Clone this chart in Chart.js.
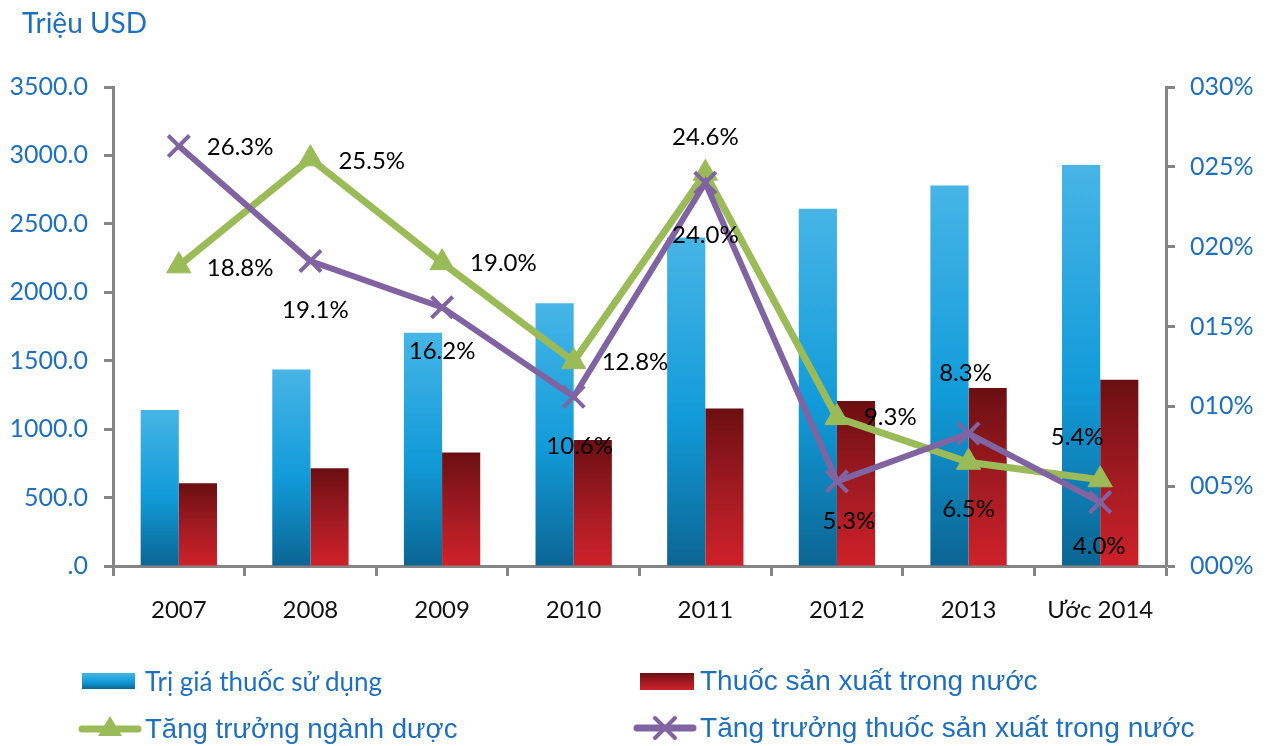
<!DOCTYPE html>
<html>
<head>
<meta charset="utf-8">
<script src="https://cdn.jsdelivr.net/npm/chart.js@4.4.1/dist/chart.umd.min.js"></script>
<style>
  html, body { margin: 0; padding: 0; background: #ffffff; }
  #wrap { position: relative; width: 1270px; height: 746px; overflow: hidden; }
  #c { position: absolute; left: 0; top: 0; }
  .txt { position: absolute; white-space: nowrap; color: #1f6fbf; line-height: 1; }
  #title { left: 22px; top: 5px; font: 28px Lato, "Noto Sans", sans-serif; }
  .sw { position: absolute; }
</style>
</head>
<body>
<div id="wrap">
  <canvas id="c" width="1270" height="746"></canvas>
  <div id="title" class="txt">Triệu USD</div>
  <div id="legend"></div>
</div>
<script>
// ---- data ----
const categories = ['2007', '2008', '2009', '2010', '2011', '2012', '2013', 'Ước 2014'];
const usageValue = [1140, 1435, 1705, 1920, 2400, 2610, 2780, 2930];       // Trị giá thuốc sử dụng (Triệu USD)
const domesticValue = [605, 715, 830, 920, 1150, 1205, 1300, 1360];        // Thuốc sản xuất trong nước (Triệu USD)
const pharmaGrowth = [18.8, 25.5, 19.0, 12.8, 24.6, 9.3, 6.5, 5.4];        // Tăng trưởng ngành dược (%)
const domesticGrowth = [26.3, 19.1, 16.2, 10.6, 24.0, 5.3, 8.3, 4.0];      // Tăng trưởng thuốc sản xuất trong nước (%)
const leftTickLabels = ['.0', '500.0', '1000.0', '1500.0', '2000.0', '2500.0', '3000.0', '3500.0'];
const rightTickLabels = ['000%', '005%', '010%', '015%', '020%', '025%', '030%'];
const seriesNames = ['Trị giá thuốc sử dụng', 'Thuốc sản xuất trong nước', 'Tăng trưởng ngành dược', 'Tăng trưởng thuốc sản xuất trong nước'];

// ---- label placement (style: align, dx, dy relative to the point) ----
const greenLabelPlace = [['left', 28, 2], ['left', 28, 2], ['left', 28, 1], ['left', 28, 1], ['center', 0, -36], ['left', 27, 0], ['center', 0, 47], ['center', -23, -43]];
const purpleLabelPlace = [['left', 28, 1], ['center', 5, 49], ['center', 0, 44], ['center', 6, 50], ['center', 0, 52], ['center', 12, 40], ['center', -3, -60], ['center', -1, 44]];

const BLUE_TXT = '#1f6fbf';
const AXIS = '#858585';
const GREEN = '#9bbb59';
const PURPLE = '#8064a2';

function barGradient(stops) {
  return function (ctx) {
    const chart = ctx.chart;
    if (ctx.type !== 'data' || !chart.chartArea) return stops[stops.length - 1][1];
    const y = chart.scales.y;
    const top = y.getPixelForValue(ctx.raw);
    const bottom = y.getPixelForValue(0);
    if (!isFinite(top) || !isFinite(bottom) || top === bottom) return stops[0][1];
    const g = chart.ctx.createLinearGradient(0, top, 0, bottom);
    stops.forEach(s => g.addColorStop(s[0], s[1]));
    return g;
  };
}
const blueStops = [[0, '#47b5e6'], [0.55, '#119bd9'], [1, '#0b6593']];
const redStops = [[0, '#6b0f12'], [0.55, '#a41b22'], [1, '#cf2129']];

const labelPlugin = {
  id: 'pointLabels',
  afterDatasetsDraw(chart) {
    const ctx = chart.ctx;
    ctx.save();
    ctx.font = '24px Lato, "Noto Sans", sans-serif';
    ctx.fillStyle = '#000000';
    ctx.textBaseline = 'middle';
    [[2, greenLabelPlace], [3, purpleLabelPlace]].forEach(([di, place]) => {
      const meta = chart.getDatasetMeta(di);
      const vals = chart.data.datasets[di].data;
      meta.data.forEach((pt, i) => {
        const p = place[i];
        ctx.textAlign = p[0];
        ctx.fillText(vals[i].toFixed(1) + '%', pt.x + p[1], pt.y + p[2]);
      });
    });
    ctx.restore();
  }
};

const tickFont = { family: 'Lato, "Noto Sans", sans-serif', size: 25 };
const catFont = { family: 'Lato, "Noto Sans", sans-serif', size: 24 };

new Chart(document.getElementById('c'), {
  type: 'bar',
  data: {
    labels: categories,
    datasets: [
      { label: seriesNames[0], data: usageValue, yAxisID: 'y', order: 3,
        backgroundColor: barGradient(blueStops), barPercentage: 1, categoryPercentage: 0.58, borderWidth: 0 },
      { label: seriesNames[1], data: domesticValue, yAxisID: 'y', order: 3,
        backgroundColor: barGradient(redStops), barPercentage: 1, categoryPercentage: 0.58, borderWidth: 0 },
      { type: 'line', label: seriesNames[2], data: pharmaGrowth, yAxisID: 'y2', order: 2,
        borderColor: GREEN, backgroundColor: GREEN, borderWidth: 7, tension: 0,
        pointStyle: 'triangle', pointRadius: 14, pointBorderWidth: 1, pointBackgroundColor: GREEN, pointBorderColor: GREEN },
      { type: 'line', label: seriesNames[3], data: domesticGrowth, yAxisID: 'y2', order: 1,
        borderColor: PURPLE, backgroundColor: PURPLE, borderWidth: 6, tension: 0,
        pointStyle: 'crossRot', pointRadius: 15, pointBorderWidth: 4, pointBorderColor: PURPLE }
    ]
  },
  options: {
    responsive: false,
    animation: false,
    layout: { padding: { top: 87, left: 0, right: 0, bottom: 0 } },
    plugins: { legend: { display: false }, tooltip: { enabled: false }, title: { display: false } },
    scales: {
      x: {
        offset: true,
        grid: { display: true, drawOnChartArea: false, offset: true, tickLength: 10, tickWidth: 3, tickColor: AXIS },
        border: { display: true, color: AXIS, width: 3 },
        ticks: { color: '#111111', font: catFont, padding: 20, maxRotation: 0, autoSkip: false },
        afterFit(s) { s.height = 180; }
      },
      y: {
        position: 'left', min: 0, max: 3500,
        grid: { display: true, drawOnChartArea: false, tickLength: 9, tickWidth: 3, tickColor: AXIS },
        border: { display: true, color: AXIS, width: 3 },
        ticks: { stepSize: 500, color: BLUE_TXT, font: tickFont, padding: 16,
          callback: (v, i) => leftTickLabels[i] },
        afterFit(s) { s.width = 113; }
      },
      y2: {
        position: 'right', min: 0, max: 30,
        grid: { display: true, drawOnChartArea: false, tickLength: 9, tickWidth: 3, tickColor: AXIS },
        border: { display: true, color: AXIS, width: 3 },
        ticks: { stepSize: 5, color: BLUE_TXT, font: tickFont, padding: 15,
          callback: (v, i) => rightTickLabels[i] },
        afterFit(s) { s.width = 104; }
      }
    }
  },
  plugins: [labelPlugin]
});

// ---- HTML legend ----
const legend = document.getElementById('legend');
function addText(text, left, cy, font) {
  const d = document.createElement('div');
  d.className = 'txt';
  d.textContent = text;
  d.style.left = left + 'px';
  d.style.font = font;
  legend.appendChild(d);
  d.style.top = (cy - d.offsetHeight / 2) + 'px';
}
function addSwatch(left, top, w, h, bg) {
  const d = document.createElement('div');
  d.className = 'sw';
  Object.assign(d.style, { left: left + 'px', top: top + 'px', width: w + 'px', height: h + 'px', background: bg });
  legend.appendChild(d);
}
addSwatch(82, 673, 53, 16, 'linear-gradient(#47b5e6, #119bd9 55%, #0b6593)');
addText(seriesNames[0], 145, 681, '26px Lato, "Noto Sans", sans-serif');
addSwatch(640, 673, 54, 17, 'linear-gradient(#6b0f12, #a41b22 55%, #cf2129)');
addText(seriesNames[1], 700, 681, '28px "Liberation Sans", Arial, sans-serif');

// line-with-marker legend icons drawn in a small canvas
function lineIcon(left, top, color, kind) {
  const cv = document.createElement('canvas');
  cv.width = 64; cv.height = 30;
  cv.style.position = 'absolute'; cv.style.left = left + 'px'; cv.style.top = top + 'px';
  const g = cv.getContext('2d');
  g.strokeStyle = color; g.fillStyle = color; g.lineCap = 'round';
  g.lineWidth = 7;
  g.beginPath(); g.moveTo(4, 15); g.lineTo(60, 15); g.stroke();
  if (kind === 'tri') {
    g.beginPath(); g.moveTo(32, 2); g.lineTo(44, 22); g.lineTo(20, 22); g.closePath(); g.fill();
  } else {
    g.lineWidth = 4;
    g.beginPath(); g.moveTo(22, 5); g.lineTo(42, 25); g.moveTo(42, 5); g.lineTo(22, 25); g.stroke();
  }
  legend.appendChild(cv);
}
lineIcon(78, 714, GREEN, 'tri');
addText(seriesNames[2], 145, 729, '27.6px "Liberation Sans", Arial, sans-serif');
lineIcon(633, 713, PURPLE, 'x');
addText(seriesNames[3], 700, 728, '28.1px "Liberation Sans", Arial, sans-serif');
</script>
</body>
</html>
